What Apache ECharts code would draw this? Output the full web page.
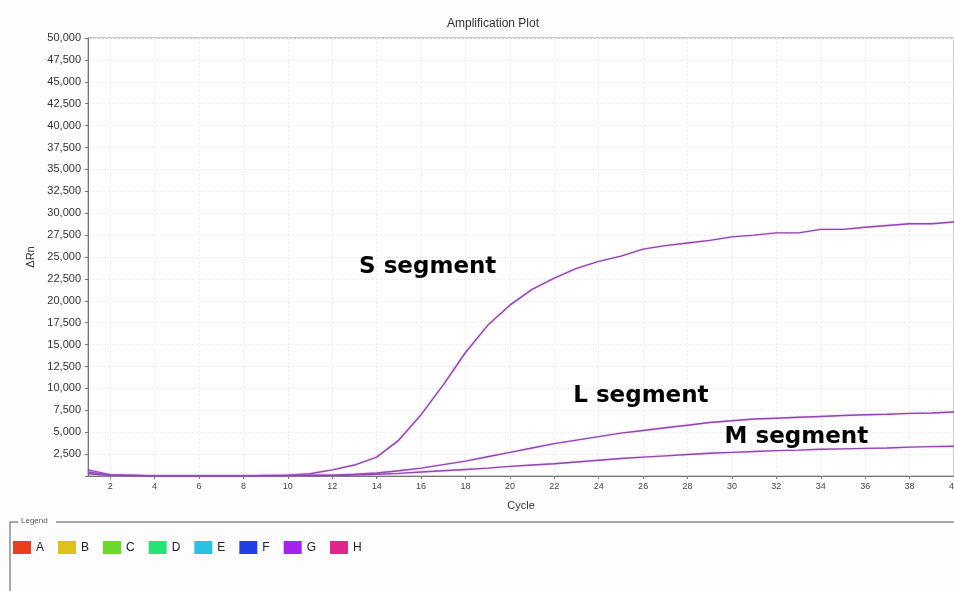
<!DOCTYPE html>
<html>
<head>
<meta charset="utf-8">
<script src="https://cdn.jsdelivr.net/npm/echarts@6/dist/echarts.min.js"></script>
<style>
  html, body { margin: 0; padding: 0; background: #fdfdfd; }
  #chart { width: 954px; height: 591px; }
</style>
</head>
<body>
<div id="chart"></div>
<script>
// Cycle numbers 1..40
const cycles = [1,2,3,4,5,6,7,8,9,10,11,12,13,14,15,16,17,18,19,20,21,22,23,24,25,26,27,28,29,30,31,32,33,34,35,36,37,38,39,40];

// ΔRn per cycle for the three wells (S, L, M segments)
const sSegment = [700,150,100,0,0,0,0,0,50,100,250,700,1250,2150,4100,7000,10400,14100,17200,19500,21300,22600,23700,24500,25100,25900,26300,26600,26900,27300,27500,27750,27750,28150,28150,28400,28600,28800,28800,29000];
const lSegment = [450,100,60,0,0,0,0,0,30,60,80,100,200,350,600,900,1300,1700,2200,2700,3200,3700,4100,4500,4900,5200,5500,5800,6100,6300,6500,6600,6700,6800,6900,7000,7050,7150,7200,7300];
const mSegment = [250,80,40,0,0,0,0,0,20,40,50,60,100,200,300,450,600,750,900,1100,1250,1400,1600,1800,2000,2150,2300,2450,2600,2700,2800,2900,2950,3050,3100,3150,3200,3300,3350,3400];

const xTicks = [2,4,6,8,10,12,14,16,18,20,22,24,26,28,30,32,34,36,38,40];
const wellNames = ['A','B','C','D','E','F','G','H'];
const wellColors = ['#ea3f1c','#dcc21a','#6ad82a','#27e277','#2ac0e6','#1f40e2','#a522ef','#e0258e'];

// Segment captions, anchored in data space
const captionText = ['S segment', 'L segment', 'M segment'];
const captionCycle = [16.3, 25.9, 32.9];
const captionValue = [23900, 9100, 4500];

const lineColor = '#8e48ab';
const uiFont = '"Liberation Sans", Arial, sans-serif';
const toPairs = arr => cycles.map((c, i) => [c, arr[i]]);

const series = wellNames.map((n) => ({
  name: n, type: 'line', data: [], symbol: 'none'
}));
[sSegment, lSegment, mSegment].forEach((arr) => {
  series.push({
    name: 'G', type: 'line', data: toPairs(arr), symbol: 'none', silent: true,
    lineStyle: { color: lineColor, width: 1.4, shadowColor: 'rgba(210,120,255,0.55)', shadowBlur: 2 },
    itemStyle: { color: wellColors[6] }
  });
});
series.push({
  name: 'captions', type: 'scatter', silent: true, symbolSize: 0,
  itemStyle: { opacity: 1 },
  data: captionText.map((t, i) => ({ value: [captionCycle[i], captionValue[i]], name: t })),
  label: {
    show: true, position: 'inside', formatter: p => p.name, opacity: 1,
    color: '#000', fontSize: 23, fontWeight: 'bold',
    fontFamily: '"DejaVu Sans", sans-serif'
  }
});

const chart = echarts.init(document.getElementById('chart'), null, { renderer: 'canvas' });
chart.setOption({
  backgroundColor: '#fdfdfd',
  animation: false,
  title: {
    text: 'Amplification Plot', left: 488, top: 13, textAlign: 'center',
    textStyle: { fontSize: 12, fontWeight: 'normal', color: '#333', fontFamily: uiFont }
  },
  grid: {
    left: 88, top: 38, right: 0, bottom: 115, outerBoundsMode: 'none',
    show: true, borderColor: '#9a9a9a', borderWidth: 1, backgroundColor: '#ffffff'
  },
  legend: {
    left: 13, top: 541, padding: 0, itemWidth: 18, itemHeight: 13, itemGap: 14, icon: 'rect',
    data: wellNames,
    textStyle: { fontSize: 12, color: '#222', fontFamily: uiFont }
  },
  color: wellColors,
  xAxis: {
    type: 'value', min: 1, max: 40,
    name: 'Cycle', nameLocation: 'middle', nameGap: 24,
    nameTextStyle: { fontSize: 11, color: '#333', fontFamily: uiFont },
    axisLine: { lineStyle: { color: '#777' } },
    axisTick: { customValues: xTicks, length: 3, lineStyle: { color: '#777' } },
    axisLabel: { customValues: xTicks, fontSize: 9, color: '#444', margin: 6, fontFamily: uiFont },
    splitLine: { show: true, lineStyle: { color: '#ececec', type: [2, 2] } }
  },
  yAxis: {
    type: 'value', min: 0, max: 50000, interval: 2500,
    name: 'ΔRn', nameLocation: 'middle', nameGap: 52, nameRotate: 90,
    nameTextStyle: { fontSize: 11, color: '#333', fontFamily: uiFont },
    axisLine: { show: true, lineStyle: { color: '#777' } },
    axisTick: { show: true, length: 3, lineStyle: { color: '#777' } },
    axisLabel: {
      fontSize: 11, color: '#333', margin: 7, fontFamily: uiFont,
      formatter: v => v === 0 ? '' : v.toLocaleString('en-US')
    },
    splitLine: { show: true, lineStyle: { color: '#ececec', type: [2, 2] } }
  },
  graphic: [
    { type: 'polyline', shape: { points: [[10, 591], [10, 522], [18, 522]] }, style: { stroke: '#555', fill: null, lineWidth: 1 } },
    { type: 'line', shape: { x1: 56, y1: 522, x2: 954, y2: 522 }, style: { stroke: '#555', lineWidth: 1 } },
    { type: 'text', left: 21, top: 517, style: { text: 'Legend', fontSize: 8, fill: '#555', fontFamily: uiFont } }
  ],
  series: series
});
</script>
</body>
</html>
